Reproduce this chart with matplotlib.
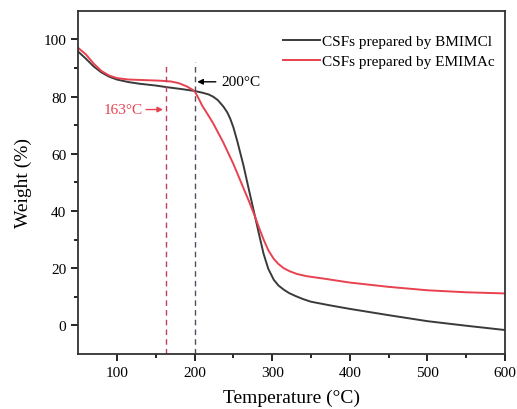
import matplotlib
matplotlib.use("Agg")
import matplotlib.pyplot as plt

plt.rcParams["font.family"] = ["Liberation Serif", "DejaVu Serif"]

# TGA curves
t_bmim = [50, 60, 70, 80, 90, 100, 115, 130, 150, 165, 185, 200, 210, 218, 224,
          230, 237, 242, 246, 250, 255, 263, 270, 278, 284, 289, 295, 302, 308,
          315, 322, 330, 340, 350, 375, 400, 450, 500, 550, 600]
w_bmim = [95.8, 93.3, 90.6, 88.5, 87.0, 86.0, 85.1, 84.5, 83.9, 83.3, 82.6, 82.0,
          81.4, 80.8, 80.0, 78.8, 76.6, 74.6, 72.3, 69.3, 64.5, 56.0, 47.5, 38.0,
          30.8, 25.0, 19.8, 16.0, 14.0, 12.5, 11.3, 10.3, 9.2, 8.3, 7.0, 5.8, 3.6,
          1.5, -0.1, -1.6]

t_emim = [50, 60, 70, 80, 90, 100, 115, 135, 155, 170, 180, 190, 200, 205, 210,
          217, 224, 237, 250, 260, 270, 278, 284, 289, 295, 302, 308, 315, 323,
          332, 345, 366, 400, 450, 500, 550, 600]
w_emim = [97.1, 94.8, 91.6, 89.0, 87.4, 86.5, 86.0, 85.8, 85.6, 85.3, 84.7, 83.6,
          82.0, 79.5, 76.8, 73.8, 70.7, 64.0, 56.5, 50.0, 43.5, 38.0, 33.5, 30.0,
          26.3, 23.3, 21.5, 20.0, 18.9, 18.0, 17.2, 16.4, 15.0, 13.5, 12.3, 11.6,
          11.2]

labels = ["CSFs prepared by BMIMCl", "CSFs prepared by EMIMAc"]
onset_temps = [163, 200]

black = "#3a3a3a"
red = "#e8414f"

fig = plt.figure(figsize=(5.17, 4.10), dpi=100)
ax = fig.add_axes([0.151, 0.134, 0.826, 0.837])

ax.plot(t_bmim, w_bmim, color=black, lw=1.4, label=labels[0])
ax.plot(t_emim, w_emim, color=red, lw=1.4, label=labels[1])

ax.plot([onset_temps[0]] * 2, [-10, 91], color="#c0405a", lw=1, ls=(0, (4, 3)))
ax.plot([onset_temps[1]] * 2, [-10, 92], color="#505060", lw=1, ls=(0, (4, 3)))

ax.annotate("", xy=(onset_temps[0], 75.5), xytext=(134, 75.5),
            arrowprops=dict(arrowstyle="-|>", color=red, lw=1, mutation_scale=8))
ax.text(133, 75.5, "163°C", color=red, fontsize=11, ha="right", va="center")
ax.annotate("", xy=(onset_temps[1], 85.2), xytext=(231, 85.2),
            arrowprops=dict(arrowstyle="-|>", color="black", lw=1, mutation_scale=8))
ax.text(235, 85.2, "200°C", color="black", fontsize=11, ha="left", va="center")

ax.set_xlim(50, 600)
ax.set_ylim(-10, 110)
ax.set_xticks([100, 200, 300, 400, 500, 600])
ax.set_xticks([150, 250, 350, 450, 550], minor=True)
ax.set_yticks([0, 20, 40, 60, 80, 100])
ax.set_yticks([10, 30, 50, 70, 90], minor=True)
ax.tick_params(which="major", direction="out", length=5, width=1.2, labelsize=11)
ax.tick_params(which="minor", direction="out", length=3, width=1.2)
for s in ax.spines.values():
    s.set_linewidth(1.3)
    s.set_color("#333333")

ax.set_xlabel("Temperature (°C)", fontsize=14, labelpad=7)
ax.set_ylabel("Weight (%)", fontsize=14, labelpad=8)

ax.legend(loc="upper right", bbox_to_anchor=(0.991, 0.95), frameon=False,
          fontsize=11, handlelength=2.4, handletextpad=0.15, labelspacing=0.45,
          borderaxespad=0)

plt.savefig("out.png", dpi=100)
